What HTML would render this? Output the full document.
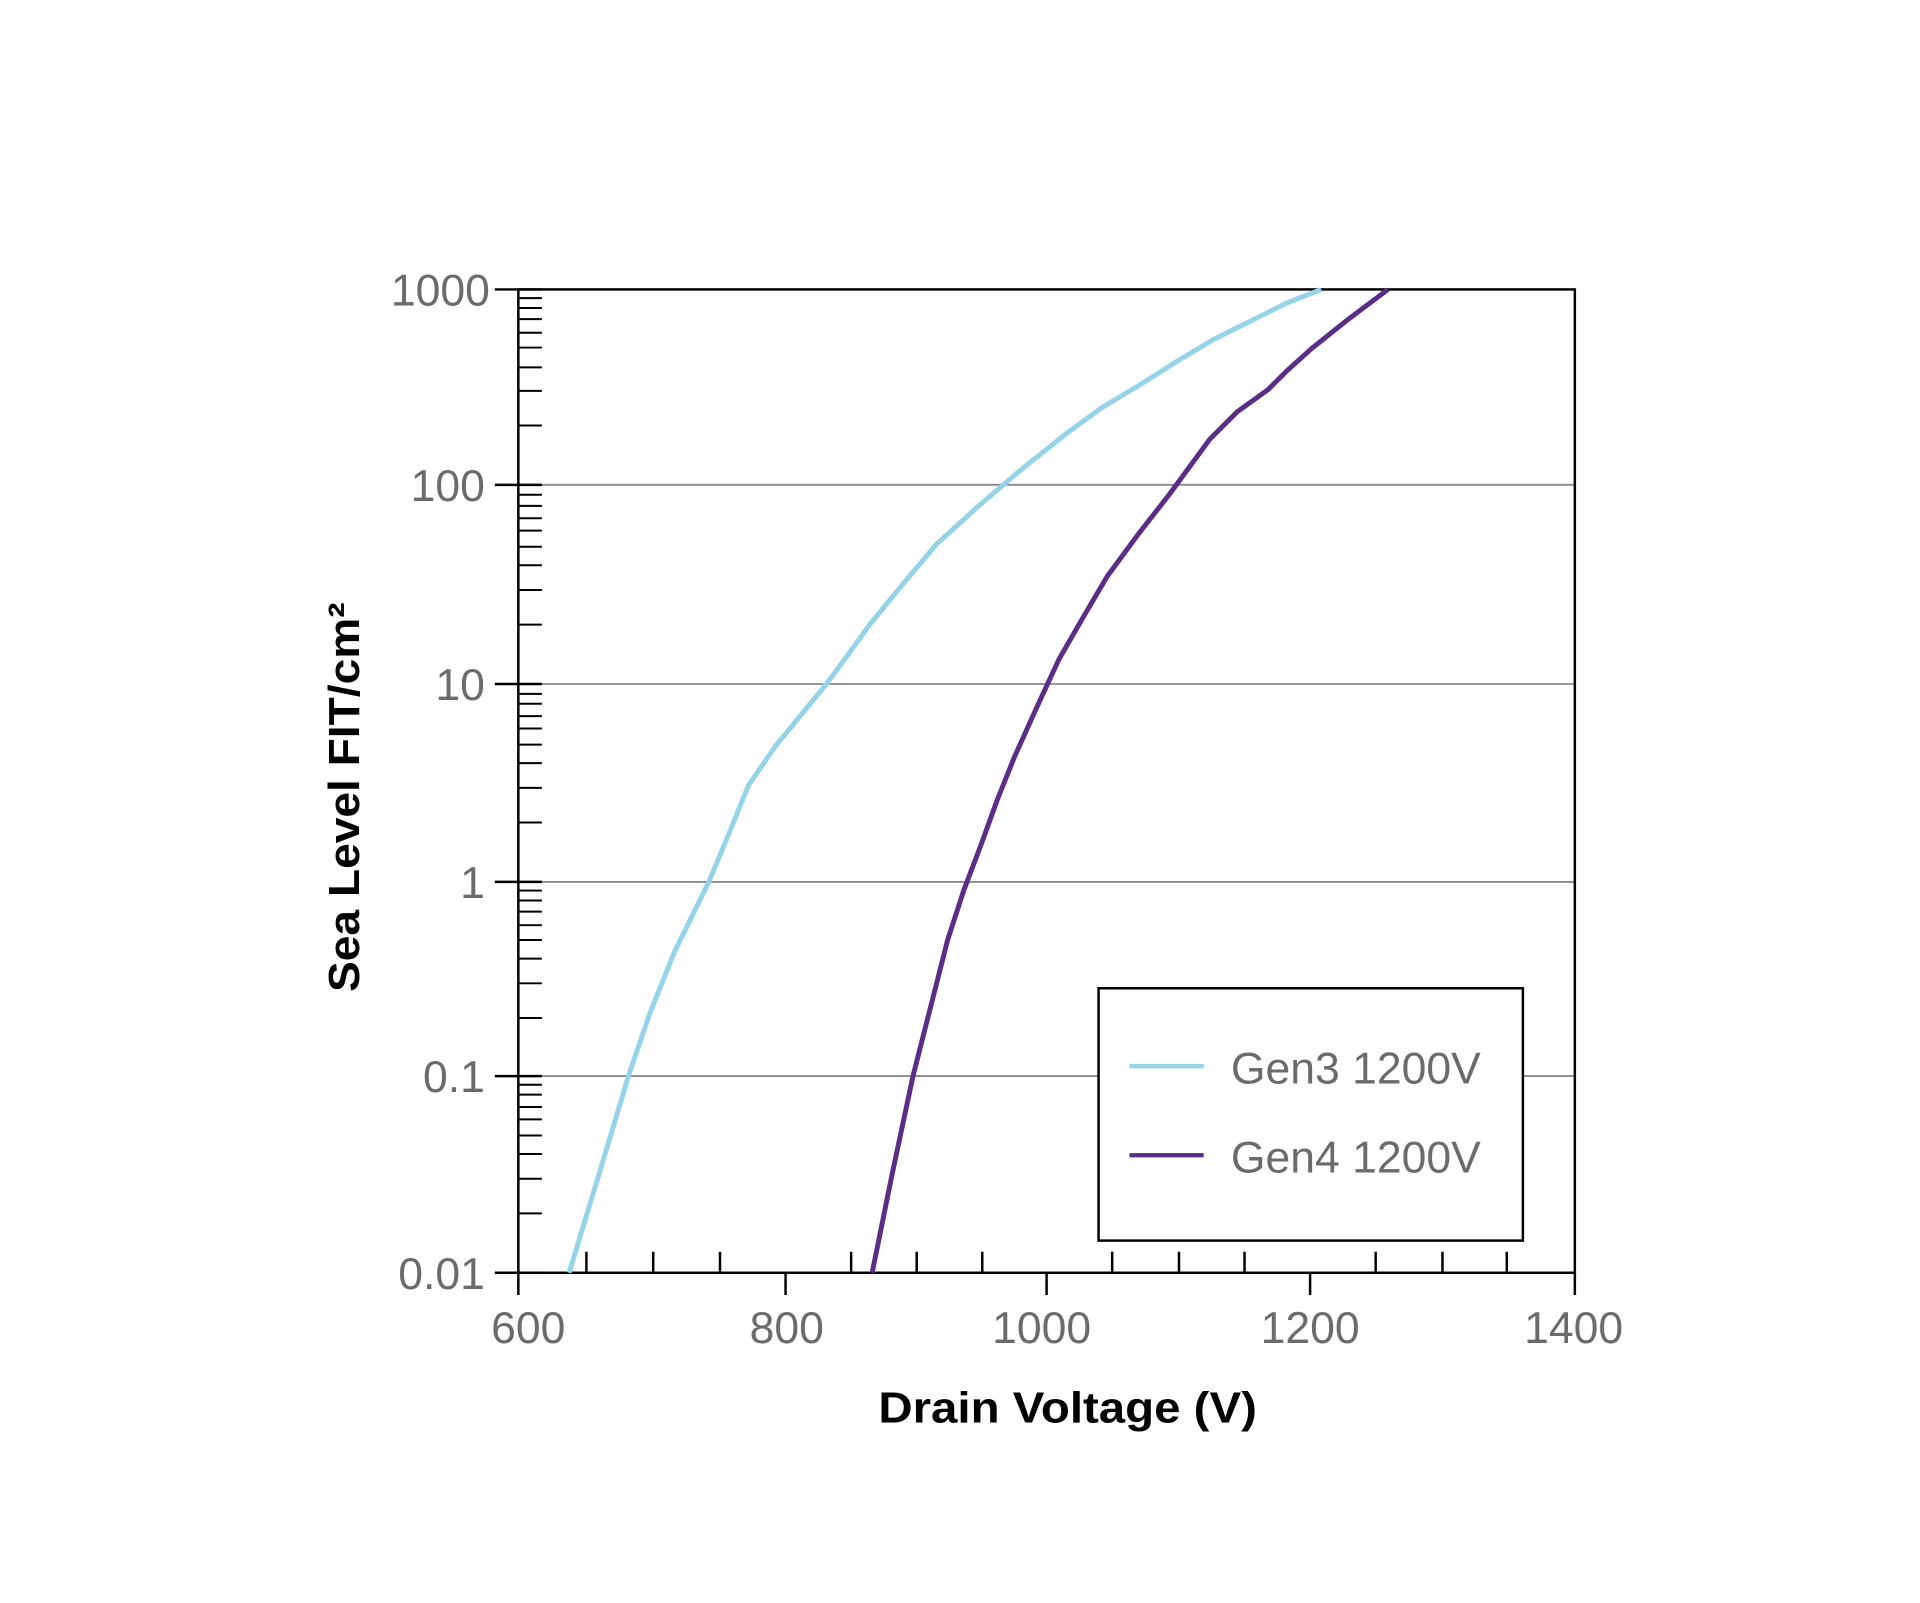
<!DOCTYPE html>
<html><head><meta charset="utf-8"><style>
html,body{margin:0;padding:0;background:#fff;}
svg{display:block;}
</style></head><body>
<svg width="1920" height="1603" viewBox="0 0 1552 1296" preserveAspectRatio="none" xmlns="http://www.w3.org/2000/svg">
<rect width="1552" height="1296" fill="#fff"/>
<g stroke="#8a8a8a" stroke-width="1.5">
<line x1="419" y1="392" x2="1273" y2="392"/>
<line x1="419" y1="553" x2="1273" y2="553"/>
<line x1="419" y1="713" x2="1273" y2="713"/>
<line x1="419" y1="870" x2="1273" y2="870"/>
</g>
<g stroke="#000" stroke-width="2" fill="none">
<rect x="419" y="234" width="854" height="795"/>
<line x1="400" y1="234" x2="438" y2="234"/>
<line x1="400" y1="392" x2="438" y2="392"/>
<line x1="400" y1="553" x2="438" y2="553"/>
<line x1="400" y1="713" x2="438" y2="713"/>
<line x1="400" y1="870" x2="438" y2="870"/>
<line x1="400" y1="1029" x2="438" y2="1029"/>
<path id="minor" d=""/>
</g>
<g stroke="#000" stroke-width="1.6" id="yminor"></g>
<g stroke="#000" stroke-width="2">
<line x1="419" y1="1029" x2="419" y2="1047"/>
<line x1="635" y1="1029" x2="635" y2="1047"/>
<line x1="846" y1="1029" x2="846" y2="1047"/>
<line x1="1059" y1="1029" x2="1059" y2="1047"/>
<line x1="1273" y1="1029" x2="1273" y2="1047"/>
<line x1="474" y1="1012" x2="474" y2="1029"/>
<line x1="528" y1="1012" x2="528" y2="1029"/>
<line x1="582" y1="1012" x2="582" y2="1029"/>
<line x1="688" y1="1012" x2="688" y2="1029"/>
<line x1="741" y1="1012" x2="741" y2="1029"/>
<line x1="794" y1="1012" x2="794" y2="1029"/>
<line x1="899" y1="1012" x2="899" y2="1029"/>
<line x1="953" y1="1012" x2="953" y2="1029"/>
<line x1="1006" y1="1012" x2="1006" y2="1029"/>
<line x1="1112" y1="1012" x2="1112" y2="1029"/>
<line x1="1166" y1="1012" x2="1166" y2="1029"/>
<line x1="1218" y1="1012" x2="1218" y2="1029"/>
</g>
<g stroke="#000" stroke-width="1.6">
<!-- minor y ticks: decades bottoms at 1029,870,713,553,392 ; spacing ~159 -->
<line x1="419" y1="981" x2="438" y2="981"/><line x1="419" y1="953" x2="438" y2="953"/><line x1="419" y1="933" x2="438" y2="933"/><line x1="419" y1="918" x2="438" y2="918"/><line x1="419" y1="905" x2="438" y2="905"/><line x1="419" y1="895" x2="438" y2="895"/><line x1="419" y1="885" x2="438" y2="885"/><line x1="419" y1="877" x2="438" y2="877"/>
<line x1="419" y1="823" x2="438" y2="823"/><line x1="419" y1="795" x2="438" y2="795"/><line x1="419" y1="775" x2="438" y2="775"/><line x1="419" y1="760" x2="438" y2="760"/><line x1="419" y1="748" x2="438" y2="748"/><line x1="419" y1="737" x2="438" y2="737"/><line x1="419" y1="728" x2="438" y2="728"/><line x1="419" y1="720" x2="438" y2="720"/>
<line x1="419" y1="665" x2="438" y2="665"/><line x1="419" y1="637" x2="438" y2="637"/><line x1="419" y1="617" x2="438" y2="617"/><line x1="419" y1="602" x2="438" y2="602"/><line x1="419" y1="589" x2="438" y2="589"/><line x1="419" y1="579" x2="438" y2="579"/><line x1="419" y1="569" x2="438" y2="569"/><line x1="419" y1="561" x2="438" y2="561"/>
<line x1="419" y1="505" x2="438" y2="505"/><line x1="419" y1="477" x2="438" y2="477"/><line x1="419" y1="457" x2="438" y2="457"/><line x1="419" y1="442" x2="438" y2="442"/><line x1="419" y1="429" x2="438" y2="429"/><line x1="419" y1="419" x2="438" y2="419"/><line x1="419" y1="409" x2="438" y2="409"/><line x1="419" y1="400" x2="438" y2="400"/>
<line x1="419" y1="344" x2="438" y2="344"/><line x1="419" y1="316" x2="438" y2="316"/><line x1="419" y1="297" x2="438" y2="297"/><line x1="419" y1="281" x2="438" y2="281"/><line x1="419" y1="269" x2="438" y2="269"/><line x1="419" y1="258" x2="438" y2="258"/><line x1="419" y1="249" x2="438" y2="249"/><line x1="419" y1="241" x2="438" y2="241"/>
</g>
<polyline fill="none" stroke="#94D3E8" stroke-width="4" stroke-linejoin="round" points="460,1029 484,950 508,870 525,820 545,770 573,713 590,672 605,635 627,603 650,575 668,553 685,530 703,505 730,472 757,440 790,410 825,380 860,352 890,330 920,312 950,293 980,275 1000,265 1020,255 1040,245 1068,234"/>
<polyline fill="none" stroke="#5B2D86" stroke-width="4" stroke-linejoin="round" points="705,1029 721,950 738,870 752,815 766,760 779,720 793,683 806,647 820,612 838,572 856,533 875,500 895,466 920,432 945,400 978,355 1000,333 1025,315 1040,300 1060,282 1090,258 1122,234"/>
<g font-family="Liberation Sans, sans-serif" font-size="36" fill="#6b6b6b" text-anchor="end">
<text x="396" y="247">1000</text>
<text x="392" y="405">100</text>
<text x="392" y="566">10</text>
<text x="392" y="726">1</text>
<text x="392" y="883">0.1</text>
<text x="392" y="1042">0.01</text>
</g>
<g font-family="Liberation Sans, sans-serif" font-size="36" fill="#6b6b6b" text-anchor="middle">
<text x="427" y="1086">600</text>
<text x="636" y="1086">800</text>
<text x="842" y="1086">1000</text>
<text x="1059" y="1086">1200</text>
<text x="1272" y="1086">1400</text>
</g>
<text x="710" y="1150" font-family="Liberation Sans, sans-serif" font-weight="bold" font-size="35" fill="#000" textLength="306" lengthAdjust="spacingAndGlyphs">Drain Voltage (V)</text>
<text transform="translate(290,802) rotate(-90)" x="0" y="0" font-family="Liberation Sans, sans-serif" font-weight="bold" font-size="35" fill="#000" textLength="315" lengthAdjust="spacingAndGlyphs">Sea Level FIT/cm²</text>
<rect x="888" y="799" width="343" height="204" fill="#fff" stroke="#000" stroke-width="2"/>
<line x1="913" y1="862" x2="973" y2="862" stroke="#94D3E8" stroke-width="3.5"/>
<line x1="913" y1="934" x2="973" y2="934" stroke="#5B2D86" stroke-width="3.5"/>
<g font-family="Liberation Sans, sans-serif" font-size="36" fill="#6b6b6b">
<text x="995" y="876" textLength="202" lengthAdjust="spacingAndGlyphs">Gen3 1200V</text>
<text x="995" y="948" textLength="202" lengthAdjust="spacingAndGlyphs">Gen4 1200V</text>
</g>
</svg>
</body></html>
